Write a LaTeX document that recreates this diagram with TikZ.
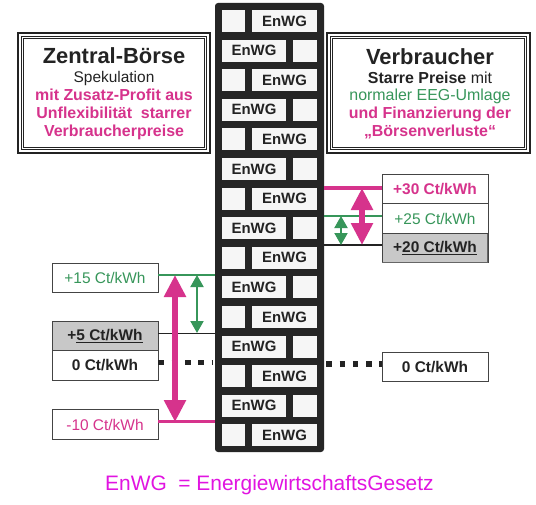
\documentclass[tikz,border=0pt]{standalone}
\usepackage{fontspec}
\setmainfont{Liberation Sans}
\usetikzlibrary{arrows.meta}
\definecolor{mag}{RGB}{214,51,140}
\definecolor{grn}{RGB}{55,150,90}
\definecolor{txt}{RGB}{35,35,35}
\definecolor{wallc}{RGB}{38,38,38}
\definecolor{brickc}{RGB}{246,246,246}
\definecolor{legendc}{RGB}{225,20,225}
\definecolor{grayfill}{RGB}{200,200,200}
\newcommand{\thickul}[1]{\tikz[baseline=(u.base)]\node[inner sep=0pt,outer sep=0pt] (u) {#1};\kern0pt}
\begin{document}
\begin{tikzpicture}[x=1bp,y=-1bp,
  brick/.style={fill=brickc,inner sep=0pt,minimum height=22bp,text=txt,font=\fontsize{15}{18}\selectfont\bfseries},
  frame/.style={draw=txt,line width=2.4bp,fill=white,inner sep=0pt,minimum height=120bp},
  head/.style={anchor=base,text=txt,font=\fontsize{22}{26}\selectfont\bfseries},
  sub/.style={anchor=base,text=txt,font=\fontsize{16}{19}\selectfont},
  pbox/.style={draw=txt!85,line width=0.8bp,fill=white,minimum width=106bp,minimum height=29.5bp,inner sep=0pt,font=\fontsize{15.5}{18}\selectfont},
  gbox/.style={pbox,fill=grayfill},
  magline/.style={mag,line width=3.5bp},
  grnline/.style={grn,line width=1.8bp},
  blkline/.style={txt,line width=1.5bp},
  dotline/.style={txt,line width=5.5bp,dash pattern=on 5.5bp off 7.8bp},
  magarrow/.style={mag,line width=6bp,{Triangle[width=21bp,length=22bp]}-{Triangle[width=21bp,length=22bp]}},
  grnarrow/.style={grn,line width=2bp,{Triangle[width=13bp,length=12bp]}-{Triangle[width=13bp,length=12bp]}}
]
\useasboundingbox[fill=white] (0,0) rectangle (536,505);

% wall
\node[fill=wallc,rounded corners=3bp,minimum width=109bp,minimum height=449bp,inner sep=0pt] (wall) at (269.5,227.5) {};
\foreach \i in {1,...,15}{
  \pgfmathsetmacro{\yy}{21+(\i-1)*29.6}
  \ifodd\i
    \node[brick,minimum width=23bp] (sq\i) at (233.5,\yy) {};
    \node[brick,minimum width=65bp] (br\i) at (284.5,\yy) {EnWG};
  \else
    \node[brick,minimum width=64bp] (br\i) at (254,\yy) {EnWG};
    \node[brick,minimum width=24bp] (sq\i) at (305,\yy) {};
  \fi
}

% left frame
\node[frame,minimum width=192bp] (zb) at (114,93) {};
\draw[txt,line width=0.8bp] ([shift={(4.5,4.5)}]zb.north west) rectangle ([shift={(-4.5,-4.5)}]zb.south east);
\draw[txt,line width=0.8bp] ([shift={(7,7)}]zb.north west) rectangle ([shift={(-7,-7)}]zb.south east);
\node[head] (zbt) at (114,64) {Zentral-Börse};
\node[sub,font=\fontsize{15.5}{18}\selectfont] (zb1) at (114,83) {Spekulation};
\node[sub,text=mag,font=\fontsize{16}{19}\selectfont\bfseries] (zb2) at (114,101) {mit Zusatz-Profit aus};
\node[sub,text=mag,font=\fontsize{16}{19}\selectfont\bfseries] (zb3) at (114,119) {Unflexibilität\ \ starrer};
\node[sub,text=mag,font=\fontsize{16}{19}\selectfont\bfseries] (zb4) at (114,137) {Verbraucherpreise};

% right frame
\node[frame,minimum width=203bp] (vb) at (428.5,93) {};
\draw[txt,line width=0.8bp] ([shift={(4.5,4.5)}]vb.north west) rectangle ([shift={(-4.5,-4.5)}]vb.south east);
\draw[txt,line width=0.8bp] ([shift={(7,7)}]vb.north west) rectangle ([shift={(-7,-7)}]vb.south east);
\node[head] (vbt) at (430,65) {Verbraucher};
\node[sub] (vb1) at (430,84) {\textbf{Starre Preise} mit};
\node[sub,text=grn] (vb2) at (430,101) {normaler EEG-Umlage};
\node[sub,text=mag,font=\fontsize{16}{19}\selectfont\bfseries] (vb3) at (430,119) {und Finanzierung der};
\node[sub,text=mag,font=\fontsize{16}{19}\selectfont\bfseries] (vb4) at (430,137) {„Börsenverluste“};

% right price boxes
\node[pbox,text=mag,font=\fontsize{15.5}{18}\selectfont\bfseries] (p30) at (435,189) {+30 Ct/kWh};
\node[pbox,text=grn] (p25) at (435,218.5) {+25 Ct/kWh};
\node[gbox,text=txt,font=\fontsize{15.5}{18}\selectfont\bfseries] (p20) at (435,248) {+\underline{20 Ct/kWh}};
\draw[gray!80!black,line width=1.6bp] ([shift={(-0.8,0.8)}]p20.north east) -- ([shift={(-0.8,-0.8)}]p20.south east) -- ([shift={(0.8,-0.8)}]p20.south west);
\node[pbox,text=txt,font=\fontsize{15.5}{18}\selectfont\bfseries] (p0r) at (435,367) {0 Ct/kWh};

% left price boxes
\node[pbox,text=grn] (p15) at (105,278) {+15 Ct/kWh};
\node[gbox,text=txt,font=\fontsize{15.5}{18}\selectfont\bfseries] (p5) at (105,336.5) {+\underline{5 Ct/kWh}};
\node[pbox,text=txt,font=\fontsize{15.5}{18}\selectfont\bfseries] (p0l) at (105,365.5) {0 Ct/kWh};
\node[pbox,text=mag] (pm10) at (105,424.5) {-10 Ct/kWh};

% connector lines
\coordinate (c30) at ([yshift=1bp]p30.west);
\coordinate (c25) at ([yshift=2.5bp]p25.west);
\coordinate (c20) at ([yshift=3bp]p20.west);
\coordinate (c0r) at ([yshift=3bp]p0r.west);
\coordinate (c15) at ([yshift=3bp]p15.east);
\coordinate (c5) at ([yshift=3bp]p5.east);
\coordinate (c0l) at ([yshift=3bp]p0l.east);
\coordinate (cm10) at ([yshift=3bp]pm10.east);
\draw[magline] (c30 -| wall.east) -- (c30);
\draw[grnline] (c25 -| wall.east) -- (c25);
\draw[blkline] (c20 -| wall.east) -- (c20);
\draw[dotline] ([xshift=2bp]c0r -| wall.east) -- (c0r);
\draw[grnline] (c15) -- (c15 -| wall.west);
\draw[blkline] (c5) -- (c5 -| wall.west);
\draw[dotline] (c0l) -- ([xshift=-2bp]c0l -| wall.west);
\draw[magline] (cm10) -- (cm10 -| wall.west);

% arrows
\coordinate (ra1) at (362,188);
\coordinate (ra2) at (362,245);
\coordinate (rg1) at (341,216);
\coordinate (rg2) at (341,245);
\coordinate (la1) at (175,275);
\coordinate (la2) at (175,422);
\coordinate (lg1) at (197,275);
\coordinate (lg2) at (197,333);
\draw[magarrow] (ra1) -- (ra2);
\draw[grnarrow] (rg1) -- (rg2);
\draw[magarrow] (la1) -- (la2);
\draw[grnarrow] (lg1) -- (lg2);

% legend
\node[anchor=base west,inner sep=0pt,text=legendc,font=\fontsize{21}{25}\selectfont] (leg) at (105,490) {EnWG\ \ = EnergiewirtschaftsGesetz};
\end{tikzpicture}
\end{document}
